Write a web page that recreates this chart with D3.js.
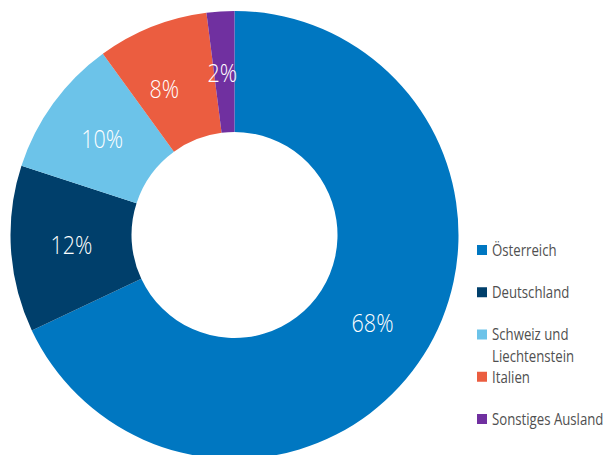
<!DOCTYPE html>
<html>
<head>
<meta charset="utf-8">
<script src="https://cdn.jsdelivr.net/npm/d3@7"></script>
<style>
  body { margin: 0; background: #fff; }
  svg { display: block; font-family: "Open Sans", "DejaVu Sans", sans-serif; }
</style>
</head>
<body>
<svg id="chart"></svg>
<script>
// Herkunft der Gäste, Anteile in %
const categories = ['Österreich', 'Deutschland', 'Schweiz und Liechtenstein', 'Italien', 'Sonstiges Ausland'];
const shares = [68, 12, 10, 8, 2];
const colors = ['#0077c1', '#003f6b', '#6cc3e9', '#eb5d40', '#7030a0'];

const width = 609, height = 455;
const cx = 234.5, cy = 235;
const outerR = 224, innerR = 103;
const squeeze = 0.8; // original uses a narrow font

const svg = d3.select('#chart').attr('width', width).attr('height', height);

const data = categories.map((c, i) => ({ name: c, value: shares[i], color: colors[i] }));

const pie = d3.pie().value(d => d.value).sort(null);
const arc = d3.arc().innerRadius(innerR).outerRadius(outerR);
const labelArc = d3.arc().innerRadius((innerR + outerR) / 2).outerRadius((innerR + outerR) / 2);

const g = svg.append('g').attr('transform', `translate(${cx},${cy})`);

const slices = pie(data);

g.selectAll('path')
  .data(slices)
  .enter()
  .append('path')
  .attr('d', arc)
  .attr('fill', d => d.data.color);

// small nudges so labels sit like in the original
const nudge = { 'Italien': [-10, 6], 'Sonstiges Ausland': [-2, 1] };

g.selectAll('text.pct')
  .data(slices)
  .enter()
  .append('text')
  .attr('class', 'pct')
  .attr('transform', d => {
    const [x, y] = labelArc.centroid(d);
    const n = nudge[d.data.name] || [0, 0];
    return `translate(${x + n[0]},${y + n[1]}) scale(0.86,1)`;
  })
  .attr('text-anchor', 'middle')
  .attr('dy', '0.36em')
  .attr('fill', '#fff')
  .attr('font-size', 25)
  .attr('font-weight', 300)
  .text(d => d.data.value + '%');

// legend
const legend = svg.append('g').attr('transform', 'translate(477,250)');
const rowH = 42.25;

const item = legend.selectAll('g')
  .data(data)
  .enter()
  .append('g')
  .attr('transform', (d, i) => `translate(0,${i * rowH})`);

item.append('rect')
  .attr('x', 0).attr('y', -5)
  .attr('width', 10).attr('height', 10)
  .attr('fill', d => d.color);

item.append('text')
  .attr('transform', `translate(15,0) scale(${squeeze},1)`)
  .attr('fill', '#505050')
  .attr('font-size', 16.5)
  .each(function (d) {
    const t = d3.select(this);
    const lines = d.name === 'Schweiz und Liechtenstein' ? ['Schweiz und', 'Liechtenstein'] : [d.name];
    lines.forEach((l, k) => {
      t.append('tspan').attr('x', 0).attr('dy', k === 0 ? '0.36em' : '1.3em').text(l);
    });
  });
</script>
</body>
</html>
